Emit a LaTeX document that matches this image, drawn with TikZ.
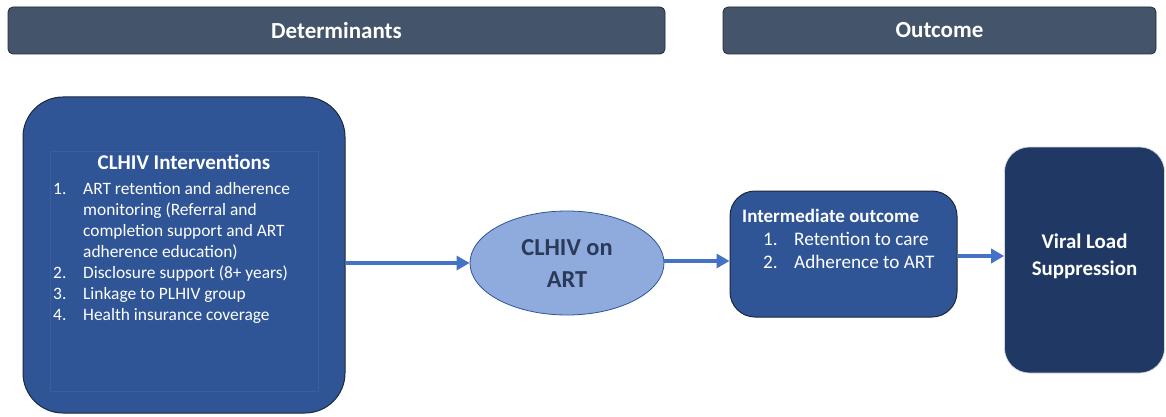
\documentclass[tikz,border=0pt]{standalone}
\usepackage{fontspec}
\setmainfont{Carlito}
\usetikzlibrary{shapes.geometric, arrows.meta, positioning, calc}
\definecolor{headerSlate}{RGB}{68, 84, 106}
\definecolor{headerEdge}{RGB}{34, 42, 53}
\definecolor{boxBlue}{RGB}{47, 85, 151}
\definecolor{boxEdge}{RGB}{30, 40, 60}
\definecolor{navyBlue}{RGB}{32, 56, 100}
\definecolor{lightBlue}{RGB}{143, 170, 220}
\definecolor{arrowBlue}{RGB}{68, 114, 196}
\definecolor{labelDark}{RGB}{42, 58, 88}

\begin{document}
\begin{tikzpicture}[
        x=1pt, y=-1pt,
        header/.style={rectangle, rounded corners=5pt, draw=headerEdge, line width=0.8pt, fill=headerSlate, text=white, font=\fontsize{23}{27}\selectfont\bfseries},
        bluebox/.style={rectangle, draw=boxEdge, line width=1pt, fill=boxBlue, text=white},
        listtext/.style={inner sep=0pt, anchor=north west, text=white, font=\fontsize{17.4}{21}\selectfont},
        arrow/.style={-{Triangle[length=13pt, width=14pt]}, line width=3.5pt, arrowBlue}
    ]
        \useasboundingbox (0,0) rectangle (1166,417);

        % Headers
        \node[header, minimum width=657pt, minimum height=47pt] (hdet) at (336.5,30.5) {Determinants};
        \node[header, minimum width=433pt, minimum height=47pt] (hout) at (939.5,30.5) {Outcome};

        % Interventions box
        \node[bluebox, rounded corners=40pt, minimum width=322pt, minimum height=316pt] (interv) at (184,255) {};
        \draw[boxBlue!94!white, line width=0.5pt] (50,151) rectangle (318,391);
        \node[text=white, font=\fontsize{21}{25}\selectfont\bfseries] (ititle) at (184,162) {CLHIV Interventions};
        \node[listtext] (ilist) at (53,179.5) {%
            \begin{tabular}{@{}p{30pt}@{}l@{}}
                1. & ART retention and adherence\\
                   & monitoring (Referral and\\
                   & completion support and ART\\
                   & adherence education)\\
                2. & Disclosure support (8+ years)\\
                3. & Linkage to PLHIV group\\
                4. & Health insurance coverage
            \end{tabular}};

        % On ART
        \node[ellipse, draw=boxBlue, line width=0.8pt, fill=lightBlue, minimum width=194pt, minimum height=104pt, align=center, text=labelDark, font=\fontsize{24.4}{32}\selectfont\bfseries] (onart) at (567,263) {CLHIV on\\ART};

        % Intermediate outcome
        \node[bluebox, rounded corners=25pt, minimum width=227pt, minimum height=126pt] (inter) at (843.5,254) {};
        \node[inner sep=0pt, anchor=base west, text=white, font=\fontsize{19}{23}\selectfont\bfseries] (mtitle) at (742,222) {Intermediate outcome};
        \node[listtext, font=\fontsize{19.2}{23}\selectfont] (mlist) at (763,229) {%
            \begin{tabular}{@{}p{31pt}@{}l@{}}
                1. & Retention to care\\
                2. & Adherence to ART
            \end{tabular}};

        % Viral load suppression
        \node[rectangle, rounded corners=25pt, draw=white!80!navyBlue, line width=0.6pt, fill=navyBlue, minimum width=160pt, minimum height=226pt] (vls) at (1084.5,260) {};
        \node[align=center, text=white, font=\fontsize{20.9}{27}\selectfont\bfseries] (vlstext) at ([yshift=4pt]vls.center) {Viral Load\\Suppression};

        % Arrows
        \draw[arrow] (interv.east |- onart.west) -- (onart.west);
        \draw[arrow] (onart.east |- 0,261) -- (inter.west |- 0,261);
        \draw[arrow] (inter.east |- 0,256) -- (vls.west |- 0,256);
    \end{tikzpicture}
\end{document}
